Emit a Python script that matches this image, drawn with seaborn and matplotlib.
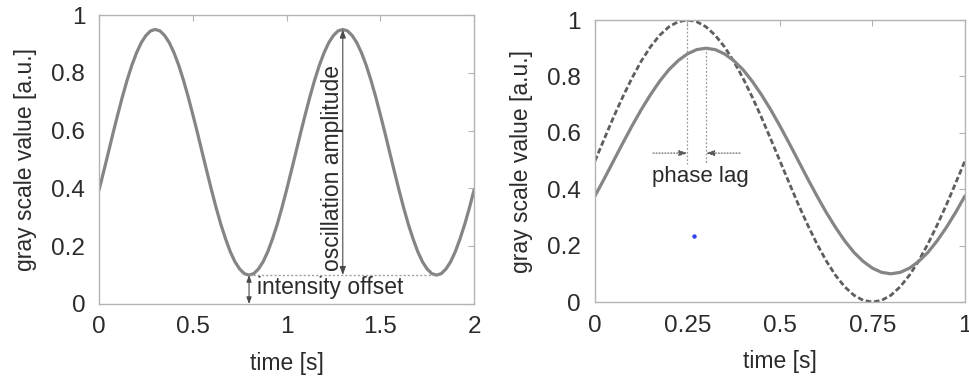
import numpy as np
import pandas as pd
import matplotlib
matplotlib.use("Agg")
import matplotlib.pyplot as plt
from matplotlib.ticker import FuncFormatter
import seaborn as sns

# ---------------- data ----------------
# left panel: time 0..2 s, sampled every 0.025 s
left_time = np.linspace(0.0, 2.0, 81)
left_gray = [
    0.394, 0.459, 0.525, 0.592, 0.656, 0.718, 0.775, 0.826, 0.869, 0.904,
    0.929, 0.945, 0.950, 0.945, 0.929, 0.904, 0.869, 0.826, 0.775, 0.718,
    0.656, 0.592, 0.525, 0.459, 0.394, 0.332, 0.275, 0.225, 0.181, 0.146,
    0.121, 0.105, 0.100, 0.105, 0.121, 0.146, 0.181, 0.225, 0.275, 0.332,
    0.394, 0.459, 0.525, 0.592, 0.656, 0.718, 0.775, 0.826, 0.869, 0.904,
    0.929, 0.945, 0.950, 0.945, 0.929, 0.904, 0.869, 0.826, 0.775, 0.718,
    0.656, 0.592, 0.525, 0.459, 0.394, 0.332, 0.275, 0.225, 0.181, 0.146,
    0.121, 0.105, 0.100, 0.105, 0.121, 0.146, 0.181, 0.225, 0.275, 0.332,
    0.394,
]

# right panel: time 0..1 s, sampled every 0.025 s
right_time = np.linspace(0.0, 1.0, 41)
right_response = [
    0.376, 0.437, 0.500, 0.563, 0.624, 0.682, 0.735, 0.783, 0.824, 0.856,
    0.880, 0.895, 0.900, 0.895, 0.880, 0.856, 0.824, 0.783, 0.735, 0.682,
    0.624, 0.563, 0.500, 0.437, 0.376, 0.318, 0.265, 0.217, 0.176, 0.144,
    0.120, 0.105, 0.100, 0.105, 0.120, 0.144, 0.176, 0.217, 0.265, 0.318,
    0.376,
]
right_stimulus = [
    0.500, 0.578, 0.655, 0.727, 0.794, 0.854, 0.905, 0.946, 0.976, 0.994,
    1.000, 0.994, 0.976, 0.946, 0.905, 0.854, 0.794, 0.727, 0.655, 0.578,
    0.500, 0.422, 0.345, 0.273, 0.206, 0.146, 0.095, 0.054, 0.024, 0.006,
    0.000, 0.006, 0.024, 0.054, 0.095, 0.146, 0.206, 0.273, 0.345, 0.422,
    0.500,
]

left_xticks = [0, 0.5, 1, 1.5, 2]
right_xticks = [0, 0.25, 0.5, 0.75, 1]
yticks = [0, 0.2, 0.4, 0.6, 0.8, 1]

# annotation anchors (data units)
offset_level = 0.1
peak_level = 0.95
amp_time = 1.3
offset_time = 0.8
offset_line_end = 1.8
stim_peak_t, stim_peak_v = 0.25, 1.0
resp_peak_t, resp_peak_v = 0.3, 0.9
stray_dot_x, stray_dot_y = [0.268], [0.234]

# ---------------- style ----------------
sns.set_style("white")
plt.rcParams["font.family"] = ["Liberation Sans", "DejaVu Sans"]

TXT = "#2b2b2b"
CURVE = "#858585"
DASH = "#5e5e5e"
FRAME = "#b3b3b3"

fig = plt.figure(figsize=(9.69, 3.76), dpi=100)
ax1 = fig.add_axes([0.1022, 0.1915, 0.387, 0.7686])
ax2 = fig.add_axes([0.614, 0.1968, 0.3818, 0.75])

fmt = FuncFormatter(lambda v, p: f"{v:g}")


def style_axes(ax, xlim, xticks):
    ax.set_xlim(*xlim)
    ax.set_ylim(0, 1)
    ax.set_xticks(xticks)
    ax.set_yticks(yticks)
    ax.xaxis.set_major_formatter(fmt)
    ax.yaxis.set_major_formatter(fmt)
    for s in ax.spines.values():
        s.set_visible(True)
        s.set_color(FRAME)
        s.set_linewidth(1.0)
    ax.tick_params(direction="in", top=True, right=True, length=4, width=0.8,
                   color=FRAME, labelsize=17.5, labelcolor=TXT)
    ax.tick_params(axis="x", pad=9)
    ax.tick_params(axis="y", pad=10)
    ax.set_xlabel("time [s]", fontsize=16.5, color=TXT, labelpad=10)
    ax.set_ylabel("gray scale value [a.u.]", fontsize=16.5, color=TXT, labelpad=10)


# ---------------- left panel ----------------
df_left = pd.DataFrame({"t": left_time, "v": left_gray})
sns.lineplot(data=df_left, x="t", y="v", ax=ax1, color=CURVE, linewidth=2.3)
style_axes(ax1, (0, 2), left_xticks)

ax1.plot([offset_time, offset_line_end], [offset_level, offset_level],
         color="#a0a0a0", linestyle=(0, (1.5, 1.5)), linewidth=1.0)
ax1.annotate("", xy=(amp_time, peak_level), xytext=(amp_time, offset_level),
             arrowprops=dict(arrowstyle="<|-|>,head_length=0.5,head_width=0.18",
                             color="#4a4a4a", lw=0.8, shrinkA=0, shrinkB=0))
ax1.text(1.245, 0.47, "oscillation amplitude", rotation=90, ha="center",
         va="center", fontsize=16.5, color=TXT)
ax1.annotate("", xy=(offset_time, offset_level), xytext=(offset_time, 0.0),
             arrowprops=dict(arrowstyle="<|-|>,head_length=0.4,head_width=0.15",
                             color="#4a4a4a", lw=0.8, shrinkA=0, shrinkB=0))
ax1.text(0.84, 0.058, "intensity offset", ha="left", va="center",
         fontsize=16.5, color=TXT)

# ---------------- right panel ----------------
df_right = pd.DataFrame({"t": right_time, "response": right_response,
                         "stimulus": right_stimulus})
sns.lineplot(data=df_right, x="t", y="stimulus", ax=ax2, color=DASH,
             linewidth=2.0)
ax2.lines[-1].set_linestyle((0, (2.0, 1.0)))
sns.lineplot(data=df_right, x="t", y="response", ax=ax2, color=CURVE,
             linewidth=2.3)
style_axes(ax2, (0, 1), right_xticks)

ax2.plot([stim_peak_t, stim_peak_t], [stim_peak_v, 0.49], color="#9a9a9a",
         linestyle=(0, (1.5, 1.5)), linewidth=0.9)
ax2.plot([resp_peak_t, resp_peak_t], [resp_peak_v, 0.49], color="#9a9a9a",
         linestyle=(0, (1.5, 1.5)), linewidth=0.9)
ax2.annotate("", xy=(stim_peak_t, 0.528), xytext=(0.157, 0.528),
             arrowprops=dict(arrowstyle="-|>,head_length=0.5,head_width=0.18",
                             color="#5a5a5a", lw=0.8, linestyle=":",
                             shrinkA=0, shrinkB=0))
ax2.annotate("", xy=(resp_peak_t, 0.528), xytext=(0.392, 0.528),
             arrowprops=dict(arrowstyle="-|>,head_length=0.5,head_width=0.18",
                             color="#5a5a5a", lw=0.8, linestyle=":",
                             shrinkA=0, shrinkB=0))
ax2.text(0.284, 0.445, "phase lag", ha="center", va="center", fontsize=16,
         color=TXT)
ax2.plot(stray_dot_x, stray_dot_y, marker="o", markersize=2.2, color="#3344ee",
         linestyle="none")

fig.savefig("out.png", dpi=100)
